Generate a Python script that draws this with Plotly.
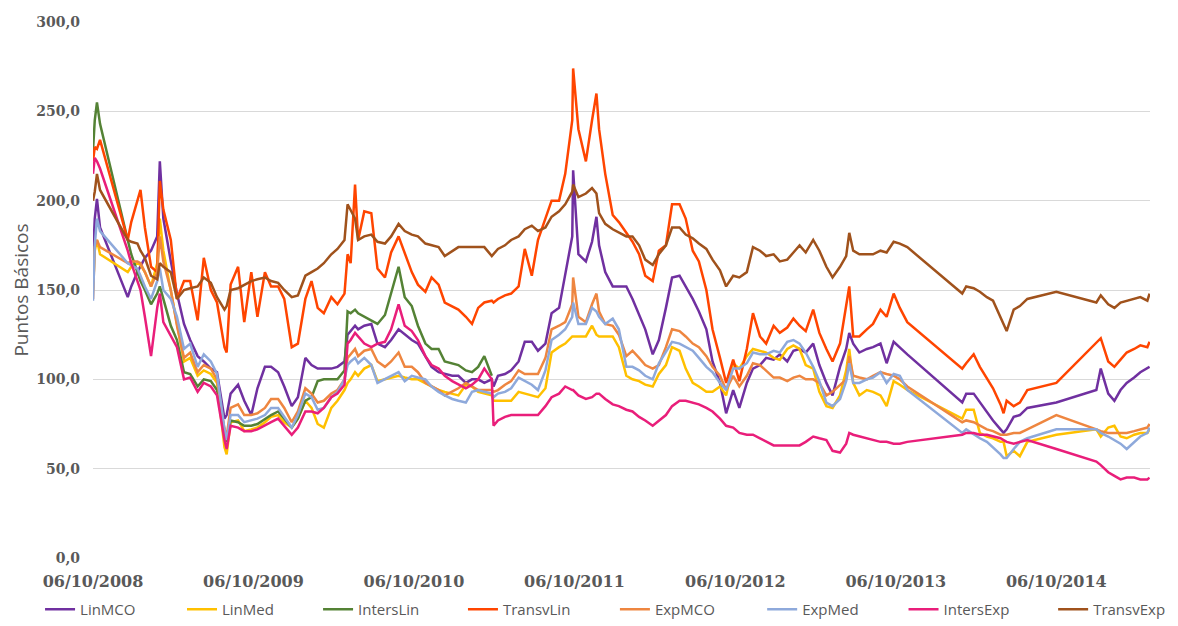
import plotly.graph_objects as go

dates = [
    "2008-10-06", "2008-10-10", "2008-10-15", "2008-10-22", "2008-12-24",
    "2009-01-01", "2009-01-15", "2009-01-22", "2009-02-01", "2009-02-15",
    "2009-03-01", "2009-03-07", "2009-03-15", "2009-04-01", "2009-04-15",
    "2009-05-01", "2009-05-15", "2009-06-01", "2009-06-15", "2009-07-01",
    "2009-07-15", "2009-08-01", "2009-08-06", "2009-08-15", "2009-09-01",
    "2009-09-15", "2009-10-01", "2009-10-15", "2009-11-01", "2009-11-15",
    "2009-12-01", "2009-12-15", "2010-01-01", "2010-01-15", "2010-02-01",
    "2010-02-15", "2010-03-01", "2010-03-15", "2010-04-01", "2010-04-15",
    "2010-05-01", "2010-05-08", "2010-05-15", "2010-05-25", "2010-06-01",
    "2010-06-15", "2010-07-01", "2010-07-15", "2010-08-01", "2010-08-15",
    "2010-09-01", "2010-09-15", "2010-10-01", "2010-10-15", "2010-11-01",
    "2010-11-15", "2010-12-01", "2010-12-15", "2011-01-01", "2011-01-15",
    "2011-02-01", "2011-02-15", "2011-03-01", "2011-03-15", "2011-04-01",
    "2011-04-05", "2011-04-15", "2011-05-01", "2011-05-15", "2011-06-01",
    "2011-06-15", "2011-07-01", "2011-07-15", "2011-08-01", "2011-08-15",
    "2011-09-01", "2011-09-15", "2011-10-01", "2011-10-03", "2011-10-15",
    "2011-11-01", "2011-11-15", "2011-11-25", "2011-12-01", "2011-12-15",
    "2012-01-01", "2012-01-15", "2012-02-01", "2012-02-15", "2012-03-01",
    "2012-03-15", "2012-04-01", "2012-04-15", "2012-05-01", "2012-05-15",
    "2012-06-01", "2012-06-15", "2012-07-01", "2012-07-15", "2012-08-01",
    "2012-08-15", "2012-09-01", "2012-09-15", "2012-10-01", "2012-10-15",
    "2012-11-01", "2012-11-15", "2012-12-01", "2012-12-15", "2013-01-01",
    "2013-01-15", "2013-02-01", "2013-02-15", "2013-03-01", "2013-03-15",
    "2013-04-01", "2013-04-15", "2013-05-01", "2013-05-15", "2013-06-01",
    "2013-06-15", "2013-06-22", "2013-07-01", "2013-07-15", "2013-08-01",
    "2013-08-15", "2013-09-01", "2013-09-15", "2013-10-01", "2013-10-15",
    "2013-11-01", "2014-03-06", "2014-03-15", "2014-04-01", "2014-04-15",
    "2014-05-01", "2014-05-15", "2014-06-01", "2014-06-08", "2014-06-15",
    "2014-07-01", "2014-07-15", "2014-08-01", "2014-10-06", "2015-01-05",
    "2015-01-15", "2015-02-01", "2015-02-15", "2015-03-01", "2015-03-15",
    "2015-04-01", "2015-04-15", "2015-05-01", "2015-05-06",
]

lin_mco = [
    168, 190, 201, 185, 146, 152, 160, 163, 168, 172,
    180, 222, 190, 166, 148, 131, 122, 113, 110, 106,
    104, 78, 80, 92, 97, 88, 80, 95, 107, 107,
    104, 96, 85, 90, 112, 108, 106, 106, 106, 107,
    110, 125, 127, 130, 128, 130, 131, 120, 118, 122,
    128, 125, 122, 120, 113, 107, 104, 103, 102, 102,
    98, 100, 100, 98, 100, 96, 102, 103, 105, 110,
    121, 121, 116, 120, 137, 140, 158, 180, 217, 170,
    166, 177, 191, 175, 160, 152, 152, 152, 145, 136,
    128, 114, 122, 140, 157, 158, 152, 145, 138, 128,
    110, 98, 81, 94, 84, 98, 106, 108, 112, 111,
    114, 110, 116, 117, 115, 120, 108, 98, 91, 107,
    117, 126, 120, 115, 117, 118, 120, 109, 121, 118,
    114, 87, 92, 92, 87, 82, 77, 72, 70, 72,
    79, 80, 84, 87, 94, 106, 92, 88, 94, 98,
    101, 104, 106, 107,
]

lin_med = [
    150, 172, 178, 170, 160, 163, 165, 164, 160, 152,
    165, 190, 172, 150, 130, 110, 112, 102, 105, 103,
    98, 62, 58, 76, 77, 71, 72, 73, 76, 79,
    80, 76, 73, 78, 88, 84, 75, 73, 84, 88,
    94, 98, 100, 104, 102, 106, 108, 99, 100, 101,
    102, 101, 100, 100, 98, 96, 94, 93, 92, 91,
    97, 96, 93, 92, 91, 88, 88, 88, 88, 93,
    92, 91, 90, 95, 115, 118, 120, 124, 124, 124,
    124, 130, 125, 124, 124, 124, 118, 102, 100, 99,
    97, 96, 103, 108, 118, 116, 106, 98, 96, 93,
    93, 96, 91, 109, 106, 113, 117, 116, 115, 112,
    111, 117, 119, 117, 108, 106, 93, 85, 84, 91,
    105, 117, 98, 91, 94, 93, 91, 85, 99, 97,
    94, 78, 83, 83, 70, 68, 67, 65, 65, 57,
    60, 57, 65, 69, 72, 68, 73, 74, 68, 67,
    69, 70, 70, 72,
]

inters_lin = [
    228, 245, 255, 243, 178, 170, 160, 155, 150, 142,
    148, 152, 145, 130, 122, 104, 103, 96, 100, 99,
    94, 70, 65, 77, 76, 74, 74, 75, 78, 80,
    82, 78, 73, 78, 88, 90, 99, 100, 100, 100,
    105, 138, 137, 139, 137, 135, 133, 131, 136, 148,
    163, 146, 141, 130, 120, 117, 117, 110, 109, 108,
    105, 104, 107, 113, 102,
]

transv_lin = [
    222, 230, 229, 234, 178, 188, 200, 206, 185, 163,
    160, 211, 195, 178, 145, 155, 155, 133, 168, 150,
    143, 118, 115, 153, 163, 132, 160, 135, 160, 152,
    152, 145, 118, 120, 145, 155, 140, 137, 146, 142,
    148, 170, 165, 209, 178, 194, 193, 162, 157, 171,
    180, 171, 160, 153, 149, 157, 153, 143, 141, 139,
    135, 131, 140, 143, 144, 143, 145, 147, 148, 152,
    173, 158, 178, 190, 200, 200, 215, 245, 274, 240,
    222, 245, 260, 240, 215, 192, 188, 182, 177, 170,
    158, 155, 172, 175, 198, 198, 190, 172, 166, 150,
    128, 112, 98, 111, 99, 117, 137, 124, 120, 130,
    126, 129, 134, 130, 127, 139, 126, 117, 110, 120,
    140, 152, 124, 124, 128, 131, 139, 135, 148, 140,
    132, 106, 109, 114, 107, 101, 95, 86, 81, 88,
    85, 87, 94, 98, 120, 123, 110, 107, 111, 115,
    117, 119, 118, 121,
]

exp_mco = [
    145, 174, 178, 174, 165, 166, 166, 165, 160, 152,
    160, 180, 166, 150, 130, 112, 115, 104, 108, 106,
    100, 72, 68, 84, 86, 80, 80, 81, 84, 89,
    89, 84, 76, 82, 95, 92, 87, 88, 92, 94,
    100, 112, 114, 117, 113, 116, 117, 110, 107, 110,
    115, 107, 107, 104, 98, 96, 94, 91, 93, 95,
    98, 96, 94, 94, 94, 93, 94, 97, 99, 105,
    103, 103, 103, 112, 128, 130, 132, 142, 157, 135,
    132, 142, 148, 138, 131, 130, 125, 113, 116, 112,
    108, 106, 108, 118, 128, 127, 124, 120, 118, 113,
    107, 102, 94, 102, 96, 102, 109, 108, 105, 101,
    101, 99, 101, 102, 100, 100, 98, 91, 93, 97,
    100, 113, 102, 101, 100, 102, 104, 103, 102, 100,
    96, 76, 77, 76, 74, 72, 71, 69, 69, 69,
    70, 70, 72, 80, 72, 71, 70, 70, 70, 70,
    71, 72, 73, 75,
]

exp_med = [
    144, 175, 190, 183, 165, 164, 162, 158, 152, 145,
    155, 162, 150, 145, 135, 117, 120, 107, 114, 110,
    103, 72, 66, 80, 80, 76, 77, 78, 80, 84,
    84, 79, 73, 80, 92, 90, 83, 84, 90, 93,
    100, 108, 110, 112, 109, 112, 108, 98, 100, 102,
    104, 99, 102, 101, 100, 96, 93, 91, 89, 88,
    87, 93, 94, 93, 92, 90, 92, 93, 95, 101,
    99, 97, 94, 105, 122, 125, 128, 135, 143, 131,
    131, 140, 138, 135, 131, 134, 128, 107, 107, 105,
    102, 100, 109, 115, 121, 120, 118, 116, 112, 107,
    104, 98, 94, 106, 106, 109, 115, 114, 114, 116,
    115, 121, 122, 120, 115, 107, 99, 87, 85, 89,
    99, 109, 98, 98, 100, 101, 104, 98, 103, 102,
    94, 70, 72, 69, 67, 65, 62, 58, 56, 56,
    61, 65, 67, 72, 72, 70, 68, 66, 64, 61,
    65, 68, 70, 73,
]

inters_exp = [
    215, 224, 222, 218, 172, 165, 155, 150, 135, 113,
    140, 148, 132, 124, 118, 100, 101, 93, 98, 96,
    91, 66, 61, 74, 73, 71, 71, 72, 74, 76,
    78, 74, 69, 73, 82, 82, 81, 84, 90, 92,
    97, 120, 122, 126, 124, 120, 118, 120, 121, 128,
    142, 130, 127, 122, 113, 108, 106, 102, 99, 97,
    95, 97, 100, 106, 100, 74, 77, 79, 80, 80,
    80, 80, 80, 85, 90, 92, 96, 94, 94, 91,
    89, 90, 92, 92, 89, 86, 85, 83, 82, 79,
    77, 74, 77, 80, 85, 88, 88, 87, 86, 84,
    82, 78, 74, 73, 70, 69, 69, 67, 65, 63,
    63, 63, 63, 63, 65, 68, 67, 66, 60, 59,
    64, 70, 69, 68, 67, 66, 65, 65, 64, 64,
    65, 69, 70, 70, 69, 69, 68, 67, 66, 65,
    64, 65, 66, 61, 54, 52, 48, 46, 44, 45,
    45, 44, 44, 45,
]

transv_exp = [
    200, 205, 215, 206, 178, 177, 176, 172, 168, 158,
    156, 165, 163, 160, 145, 150, 151, 152, 157, 154,
    146, 139, 141, 150, 151, 153, 155, 156, 157, 155,
    154, 150, 146, 147, 158, 160, 162, 165, 170, 173,
    178, 198, 195, 190, 178, 180, 181, 177, 176, 180,
    187, 183, 181, 180, 176, 175, 174, 169, 172, 174,
    174, 174, 174, 174, 169, 170, 173, 175, 178, 180,
    184, 186, 183, 185, 191, 194, 198, 205, 209, 202,
    204, 207, 204, 193, 187, 184, 182, 180, 180, 175,
    167, 164, 170, 175, 185, 185, 181, 179, 176, 173,
    167, 161, 152, 158, 157, 160, 174, 172, 169, 170,
    166, 167, 171, 175, 171, 178, 172, 163, 157, 163,
    169, 182, 172, 170, 170, 170, 172, 171, 177, 176,
    174, 148, 152, 151, 149, 146, 144, 135, 131, 127,
    139, 141, 145, 149, 143, 147, 142, 140, 143, 144,
    145, 146, 144, 148,
]

series_names = ["LinMCO", "LinMed", "IntersLin", "TransvLin",
                "ExpMCO", "ExpMed", "IntersExp", "TransvExp"]
series_values = [lin_mco, lin_med, inters_lin, transv_lin,
                 exp_mco, exp_med, inters_exp, transv_exp]
series_colors = ["#7030A0", "#FFC000", "#548235", "#FF4500",
                 "#EE8640", "#8EA9DB", "#E91E7A", "#A0521C"]

tick_dates = ["2008-10-06", "2009-10-06", "2010-10-06", "2011-10-06",
              "2012-10-06", "2013-10-06", "2014-10-06"]
tick_labels = ["06/10/2008", "06/10/2009", "06/10/2010", "06/10/2011",
               "06/10/2012", "06/10/2013", "06/10/2014"]

y_ticks = [0, 50, 100, 150, 200, 250, 300]
y_labels = ["0,0", "50,0", "100,0", "150,0", "200,0", "250,0", "300,0"]

# horizontal position (container fraction) of each legend entry
legend_x = [0.034, 0.1545, 0.270, 0.393, 0.522, 0.647, 0.767, 0.894]

grey = "#595959"
fig = go.Figure()
legend_layouts = {}
for i, (name, vals, col) in enumerate(zip(series_names, series_values, series_colors)):
    key = "legend" if i == 0 else f"legend{i + 1}"
    fig.add_trace(go.Scatter(
        x=dates[:len(vals)], y=vals, name=name, mode="lines",
        line=dict(color=col, width=2.5), legend=key,
    ))
    legend_layouts[key] = dict(
        orientation="h", xref="container", yref="container",
        x=legend_x[i], y=-0.02, xanchor="left", yanchor="bottom",
        font=dict(family="Open Sans", size=15, color=grey),
        bgcolor="rgba(0,0,0,0)",
    )

fig.update_layout(
    width=1178, height=626,
    margin=dict(l=93, r=28, t=22, b=68, autoexpand=False),
    paper_bgcolor="white", plot_bgcolor="white",
    xaxis=dict(
        type="date", range=["2008-10-06", "2015-05-07"],
        tickmode="array", tickvals=tick_dates, ticktext=tick_labels,
        showgrid=False, zeroline=False, showline=False,
        tickfont=dict(family="DejaVu Serif", size=16, color=grey, weight="bold"),
        ticklabelstandoff=12,
    ),
    yaxis=dict(
        range=[0, 300], tickmode="array", tickvals=y_ticks, ticktext=y_labels,
        showgrid=True, gridcolor="#D9D9D9", gridwidth=1,
        zeroline=False, showline=False,
        tickfont=dict(family="DejaVu Serif", size=14, color=grey, weight="bold"),
        ticklabelstandoff=12,
        title=dict(text="Puntos Básicos", font=dict(family="Open Sans", size=19, color=grey),
                   standoff=2),
    ),
    showlegend=True,
    **legend_layouts,
)

fig.write_html("out.html", config={"displayModeBar": False},
               post_script="document.body.style.margin='0';")
